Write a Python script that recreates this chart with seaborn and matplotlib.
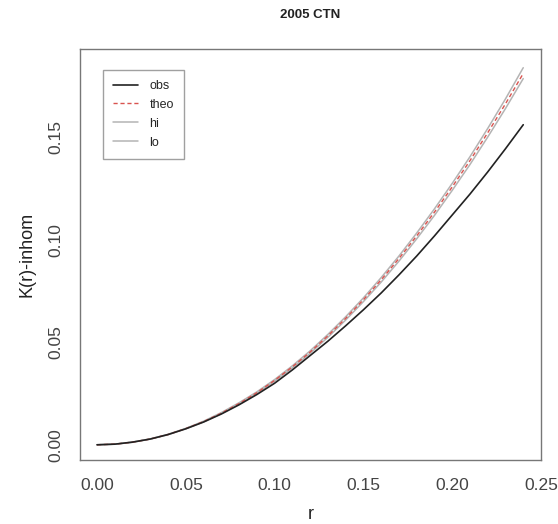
import pandas as pd
import matplotlib
matplotlib.use("Agg")
import matplotlib.pyplot as plt
import seaborn as sns

# values
r = [0.00, 0.01, 0.02, 0.03, 0.04, 0.05, 0.06, 0.07, 0.08, 0.09, 0.10, 0.11, 0.12,
     0.13, 0.14, 0.15, 0.16, 0.17, 0.18, 0.19, 0.20, 0.21, 0.22, 0.23, 0.24]
obs = [0.0, 0.0003, 0.0013, 0.0028, 0.0050, 0.0078, 0.0111, 0.0150, 0.0195, 0.0245,
       0.0300, 0.0365, 0.0435, 0.0505, 0.0580, 0.0658, 0.0740, 0.0828, 0.0920, 0.1018,
       0.1120, 0.1222, 0.1330, 0.1443, 0.1560]
theo = [0.0, 0.0003, 0.0013, 0.0028, 0.0050, 0.0079, 0.0113, 0.0154, 0.0201, 0.0254,
        0.0314, 0.0380, 0.0452, 0.0531, 0.0616, 0.0707, 0.0804, 0.0908, 0.1018, 0.1134,
        0.1257, 0.1385, 0.1521, 0.1662, 0.1810]
hi = [0.0, 0.0003, 0.0013, 0.0029, 0.0051, 0.0080, 0.0115, 0.0157, 0.0205, 0.0258,
      0.0318, 0.0385, 0.0458, 0.0538, 0.0624, 0.0716, 0.0815, 0.0920, 0.1032, 0.1150,
      0.1274, 0.1404, 0.1542, 0.1686, 0.1838]
lo = [0.0, 0.0003, 0.0012, 0.0028, 0.0049, 0.0078, 0.0111, 0.0152, 0.0198, 0.0251,
      0.0310, 0.0375, 0.0446, 0.0524, 0.0608, 0.0698, 0.0793, 0.0895, 0.1004, 0.1118,
      0.1240, 0.1366, 0.1500, 0.1639, 0.1785]

title = "2005 CTN"
xticks = [0.00, 0.05, 0.10, 0.15, 0.20, 0.25]
yticks = [0.00, 0.05, 0.10, 0.15]

sns.set_style("white")
plt.rcParams["font.family"] = ["Liberation Sans", "DejaVu Sans"]

df = pd.DataFrame({"r": r, "obs": obs, "theo": theo, "hi": hi, "lo": lo})

fig = plt.figure(figsize=(5.58, 5.24), dpi=100)
ax = fig.add_axes([80 / 558, 1 - 460 / 524, 461 / 558, 411 / 524])

# envelope first, then theo, then obs on top
sns.lineplot(data=df, x="r", y="hi", ax=ax, color="#b4b4b4", lw=1.1, label="hi")
sns.lineplot(data=df, x="r", y="lo", ax=ax, color="#b4b4b4", lw=1.1, label="lo")
sns.lineplot(data=df, x="r", y="theo", ax=ax, color="#d9534f", lw=1.0, ls=(0, (3, 2)), label="theo")
sns.lineplot(data=df, x="r", y="obs", ax=ax, color="#222222", lw=1.2, label="obs")

# R-style 4% padding
xr = max(r) - min(r)
ax.set_xlim(min(r) - 0.04 * xr, max(r) + 0.04 * xr)
ymax = 0.1855
ax.set_ylim(-0.04 * ymax, ymax + 0.04 * ymax)

ax.set_xticks(xticks)
ax.set_xticklabels([f"{t:.2f}" for t in xticks])
ax.set_yticks(yticks)
ax.set_yticklabels([f"{t:.2f}" for t in yticks], rotation=90, va="center")
ax.tick_params(axis="both", direction="out", length=6, width=0.9, color="#555555",
               labelsize=12.5, labelcolor="#444444", pad=7)
ax.tick_params(axis="y", pad=6)
for s in ax.spines.values():
    s.set_color("#777777")
    s.set_linewidth(1.0)

ax.set_xlabel("r", fontsize=13, color="#222222", labelpad=9)
ax.set_ylabel("K(r)-inhom", fontsize=13, color="#222222", labelpad=9)
fig.text(310 / 558, 1 - 15 / 524, title, ha="center", va="center",
         fontsize=9.5, fontweight="bold", color="#222222")

# legend in R order
h, l = ax.get_legend_handles_labels()
order = [l.index(k) for k in ["obs", "theo", "hi", "lo"]]
leg = ax.legend([h[i] for i in order], [l[i] for i in order], loc="upper left",
                bbox_to_anchor=(0.05, 0.949), borderaxespad=0, fontsize=9,
                frameon=True, fancybox=False, edgecolor="#888888",
                handlelength=2.0, handletextpad=0.9, labelspacing=0.55,
                borderpad=0.8)
leg.get_frame().set_linewidth(1.0)

fig.savefig("out.png", dpi=100)
